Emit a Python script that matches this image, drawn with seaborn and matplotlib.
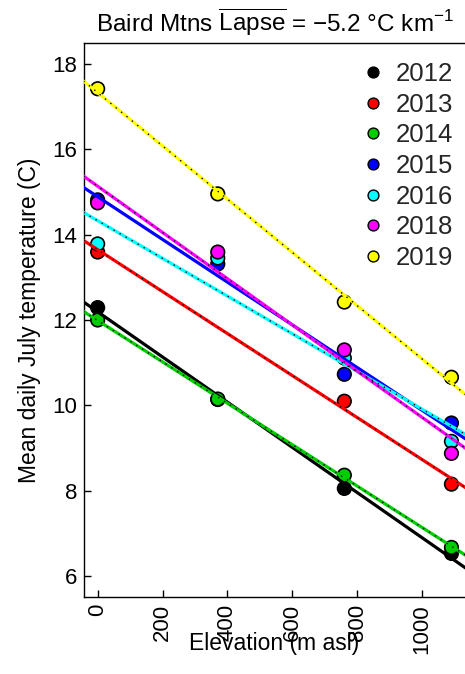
import numpy as np
import pandas as pd
import matplotlib
matplotlib.use("Agg")
import matplotlib.pyplot as plt
from matplotlib.lines import Line2D
import seaborn as sns

# Station elevations (m asl) and mean daily July temperature (C) per year
elevation = [0, 370, 760, 1090]
t2012 = [12.29, 10.14, 8.06, 6.54]
t2013 = [13.59, np.nan, 10.10, 8.16]
t2014 = [12.00, 10.15, 8.37, 6.68]
t2015 = [14.81, 13.31, 10.73, 9.59]
t2016 = [13.78, 13.45, 11.11, 9.16]
t2018 = [14.74, 13.59, 11.30, 8.88]
t2019 = [17.41, 14.95, 12.42, 10.66]

years = ["2012", "2013", "2014", "2015", "2016", "2018", "2019"]
series = [t2012, t2013, t2014, t2015, t2016, t2018, t2019]
colors = ["#000000", "#FF0000", "#00CD00", "#0000FF", "#00FFFF", "#FF00FF", "#FFFF00"]
dotted = [False, True, True, False, True, True, True]
yticks = [6, 8, 10, 12, 14, 16, 18]
xticks = [0, 200, 400, 600, 800, 1000]

sns.set_theme(style="white")
plt.rcParams["font.family"] = ["Liberation Sans", "DejaVu Sans"]
plt.rcParams["mathtext.fontset"] = "custom"
plt.rcParams["mathtext.rm"] = "Liberation Sans"
plt.rcParams["mathtext.it"] = "Liberation Sans:italic"
plt.rcParams["mathtext.bf"] = "Liberation Sans:bold"

df = pd.DataFrame({"elev": np.tile(elevation, len(years)),
                   "temp": np.concatenate(series),
                   "year": np.repeat(years, len(elevation))})

W, H = 465, 674
fig = plt.figure(figsize=(W / 100, H / 100), dpi=100)
left, right, top, bottom = 83.5, 465.6, 43, 597
ax = fig.add_axes([left / W, 1 - bottom / H, (right - left) / W, (bottom - top) / H])

xmin, xmax = 0, 1090
ymin, ymax = 6, 18
xlim = (xmin - 0.04 * (xmax - xmin), xmax + 0.04 * (xmax - xmin))
ylim = (ymin - 0.04 * (ymax - ymin), ymax + 0.04 * (ymax - ymin))
ax.set_xlim(*xlim)
ax.set_ylim(*ylim)

# station points
sns.scatterplot(data=df.dropna(), x="elev", y="temp", hue="year",
                palette=dict(zip(years, colors)), s=95, edgecolor="black",
                linewidth=1.2, legend=False, ax=ax, zorder=2)

# regression lines across the full elevation range
for yr, c, dot in zip(years, colors, dotted):
    sub = df[df.year == yr].dropna()
    sns.regplot(data=sub, x="elev", y="temp", scatter=False, ci=None,
                truncate=False, color=c, line_kws=dict(lw=2.3, zorder=3), ax=ax)
    if dot:
        sns.regplot(data=sub, x="elev", y="temp", scatter=False, ci=None,
                    truncate=False, color="black",
                    line_kws=dict(lw=1.0, dashes=(1, 4), zorder=4), ax=ax)

ax.set_xlim(*xlim)
ax.set_ylim(*ylim)

for s in ax.spines.values():
    s.set_color("black")
    s.set_linewidth(1.0)

ax.set_xticks(xticks)
ax.set_yticks(yticks)
ax.set_xticklabels([str(v) for v in xticks], rotation=90, va="top", ha="center")
ax.tick_params(axis="both", direction="in", length=4.8, width=1.0, color="black",
               labelsize=16, labelcolor="black")
ax.tick_params(axis="y", left=True, pad=4.3)
ax.tick_params(axis="x", bottom=True, pad=5)

ax.set_xlabel("Elevation (m asl)", fontsize=16.5, color="black")
ax.xaxis.set_label_coords(0.5, -0.064)
ax.set_ylabel("Mean daily July temperature (C)", fontsize=16.5, color="black")
ax.yaxis.set_label_coords(-0.112, 0.5)

ax.set_title(r"Baird Mtns $\overline{\mathrm{Lapse}}$ = −5.2 °C km$^{-1}$",
             fontsize=17.5, color="black", pad=8.5)

handles = [Line2D([], [], marker="o", linestyle="none", markersize=7.8,
                  markerfacecolor=c, markeredgecolor="black", markeredgewidth=1.0)
           for c in colors]
leg = ax.legend(handles, years, loc="upper left",
                bbox_to_anchor=(360 / W, 1 - 62 / H), bbox_transform=fig.transFigure,
                frameon=False, fontsize=18.5, handletextpad=0.4, labelspacing=0.26,
                handlelength=1.0, borderaxespad=0, borderpad=0)

fig.savefig("out.png", dpi=100)
